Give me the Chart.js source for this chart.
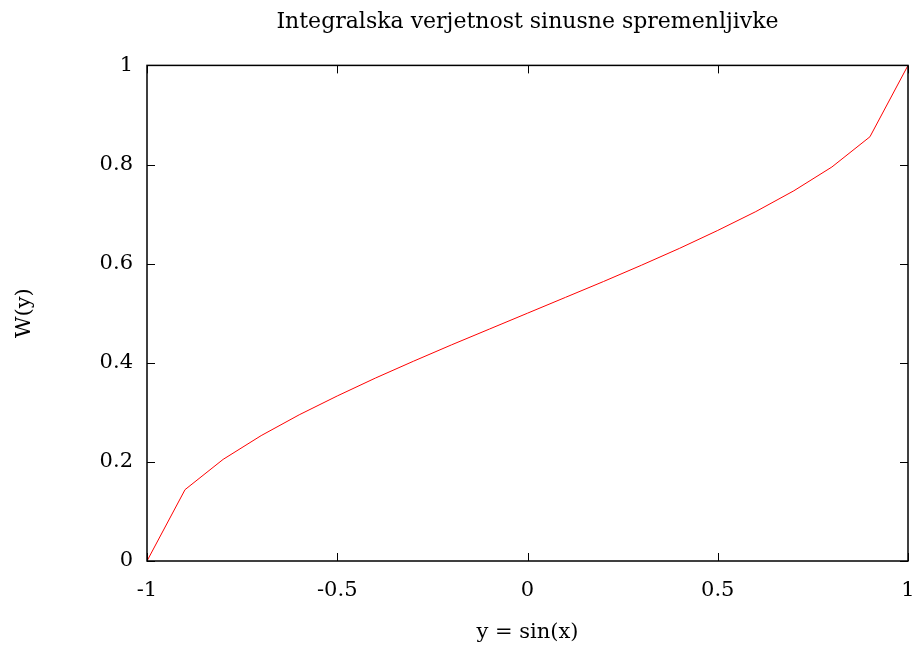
<!DOCTYPE html>
<html>
<head>
<meta charset="utf-8">
<script src="https://cdn.jsdelivr.net/npm/chart.js@4/dist/chart.umd.min.js"></script>
<style>
  html, body { margin: 0; padding: 0; background: #fff; }
  #wrap { width: 919px; height: 649px; }
</style>
</head>
<body>
<div id="wrap"><canvas id="cdfChart" width="919" height="649"></canvas></div>
<script>
// podatki, odčitani s slike
const yVals = [-1, -0.9, -0.8, -0.7, -0.6, -0.5, -0.4, -0.3, -0.2, -0.1, 0, 0.1, 0.2, 0.3, 0.4, 0.5, 0.6, 0.7, 0.8, 0.9, 1];
const wVals = [0, 0.144, 0.205, 0.253, 0.295, 0.333, 0.369, 0.403, 0.436, 0.468, 0.5, 0.532, 0.564, 0.597, 0.631, 0.667, 0.705, 0.747, 0.795, 0.856, 1];
const xTicks = [-1, -0.5, 0, 0.5, 1];
const yTicks = [0, 0.2, 0.4, 0.6, 0.8, 1];

const serif = "'DejaVu Serif', 'Liberation Serif', serif";
const fs = 21;

// notranje oznake in okvir kot pri gnuplotu
const frame = {
    id: 'frame',
    afterDatasetsDraw(chart) {
        const ctx = chart.ctx;
        const a = chart.chartArea;
        const sx = chart.scales.x, sy = chart.scales.y;
        ctx.save();
        ctx.strokeStyle = '#000';
        ctx.lineWidth = 1;
        ctx.beginPath();
        sx.ticks.forEach(t => {
            const px = Math.round(sx.getPixelForValue(t.value)) + 0.5;
            ctx.moveTo(px, a.bottom); ctx.lineTo(px, a.bottom - 8);
            ctx.moveTo(px, a.top); ctx.lineTo(px, a.top + 8);
        });
        sy.ticks.forEach(t => {
            const py = Math.round(sy.getPixelForValue(t.value)) + 0.5;
            ctx.moveTo(a.left, py); ctx.lineTo(a.left + 8, py);
            ctx.moveTo(a.right, py); ctx.lineTo(a.right - 8, py);
        });
        ctx.stroke();
        ctx.lineWidth = 1.5;
        ctx.strokeRect(a.left, a.top, a.right - a.left, a.bottom - a.top);
        ctx.restore();
    }
};

const ctx = document.getElementById('cdfChart').getContext('2d');
new Chart(ctx, {
    type: 'line',
    data: {
        datasets: [{
            data: yVals.map((v, i) => ({ x: v, y: wVals[i] })),
            borderColor: '#ff0000',
            borderWidth: 1,
            pointRadius: 0,
            tension: 0,
            fill: false
        }]
    },
    options: {
        responsive: false,
        animation: false,
        layout: { padding: { left: 0, right: 11, top: 0, bottom: 0 } },
        plugins: {
            legend: { display: false },
            tooltip: { enabled: false },
            title: {
                display: true,
                fullSize: false,
                text: 'Integralska verjetnost sinusne spremenljivke',
                color: '#000',
                font: { family: serif, size: 22, weight: 'normal' },
                padding: { top: 9, bottom: 30 }
            }
        },
        scales: {
            x: {
                type: 'linear',
                min: -1,
                max: 1,
                afterBuildTicks: s => { s.ticks = xTicks.map(v => ({ value: v })); },
                afterFit: s => { s.height = 88; s.paddingLeft = 0; s.paddingRight = 0; },
                grid: { display: false, drawTicks: false },
                border: { display: false },
                ticks: {
                    color: '#000',
                    padding: 17,
                    maxRotation: 0,
                    font: { family: serif, size: fs },
                    callback: v => String(v)
                },
                title: {
                    display: true,
                    text: 'y = sin(x)',
                    color: '#000',
                    font: { family: serif, size: fs },
                    padding: { top: 0, bottom: 4 }
                }
            },
            y: {
                type: 'linear',
                min: 0,
                max: 1,
                afterBuildTicks: s => { s.ticks = yTicks.map(v => ({ value: v })); },
                afterFit: s => { s.width = 147; s.paddingTop = 0; s.paddingBottom = 0; },
                grid: { display: false, drawTicks: false },
                border: { display: false },
                ticks: {
                    color: '#000',
                    padding: 14,
                    font: { family: serif, size: fs },
                    callback: v => String(v)
                },
                title: {
                    display: true,
                    text: 'W(y)',
                    color: '#000',
                    font: { family: serif, size: fs },
                    padding: { top: 12, bottom: 0 }
                }
            }
        }
    },
    plugins: [frame]
});
</script>
</body>
</html>
